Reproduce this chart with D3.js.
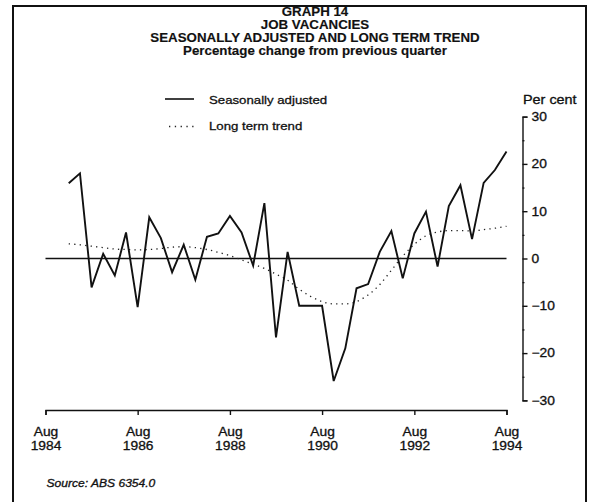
<!DOCTYPE html>
<html lang="en">
<head>
  <meta charset="utf-8">
  <title>Job vacancies</title>
  <script src="https://d3js.org/d3.v7.min.js"></script>
  <style>
    body { margin: 0; background: #fff; }
    svg text { font-family: "Liberation Sans", Arial, Helvetica, sans-serif; fill: #111; stroke: #111; stroke-width: 0.3px; }
  </style>
</head>
<body>
<div id="chart"></div>
<script>
"use strict";
// quarters, Feb 1985 .. Aug 1994
var quarters = ["1985-02","1985-05","1985-08","1985-11","1986-02","1986-05","1986-08","1986-11",
  "1987-02","1987-05","1987-08","1987-11","1988-02","1988-05","1988-08","1988-11",
  "1989-02","1989-05","1989-08","1989-11","1990-02","1990-05","1990-08","1990-11",
  "1991-02","1991-05","1991-08","1991-11","1992-02","1992-05","1992-08","1992-11",
  "1993-02","1993-05","1993-08","1993-11","1994-02","1994-05","1994-08"];
var seasAdj = [15.9, 18.0, -6.1, 1.0, -3.6, 5.5, -10.3, 8.7, 4.3, -2.9, 2.9, -4.5, 4.6, 5.3,
  9.0, 5.5, -1.5, 11.7, -16.7, 1.4, -10.0, -10.0, -10.0, -25.9, -19.0, -6.3, -5.4, 1.4, 5.8,
  -4.2, 5.3, 9.9, -1.7, 11.1, 15.5, 4.1, 16.0, 18.7, 22.6];
var trend = [3.1, 2.9, 2.6, 2.3, 2.0, 1.9, 1.8, 1.9, 2.1, 2.4, 2.5, 2.3, 1.9, 1.3, 0.6, -0.3,
  -1.2, -2.1, -3.3, -4.6, -6.5, -8.0, -9.1, -9.6, -9.6, -9.1, -7.7, -5.5, -2.5, 0.5, 3.0, 4.8,
  5.6, 5.9, 5.9, 5.8, 6.1, 6.4, 6.8];
var xTicks = ["1984-08","1986-08","1988-08","1990-08","1992-08","1994-08"];
var yTicks = [-30, -20, -10, 0, 10, 20, 30];
var yMinor = [-25, -15, -5, 5, 15, 25];
var titles = ["GRAPH 14", "JOB VACANCIES", "SEASONALLY ADJUSTED AND LONG TERM TREND",
  "Percentage change from previous quarter"];

var W = 594, H = 502;
var SX = 1.15; // the scan is stretched sideways
var parse = d3.timeParse("%Y-%m");

var svg = d3.select("#chart").append("svg")
  .attr("width", W).attr("height", H);

// frame
svg.append("path")
  .attr("d", "M13,510V6H586V510")
  .attr("fill", "none").attr("stroke", "#111").attr("stroke-width", 2);

function label(x, y, str, size, anchor, sx, extra) {
  var t = svg.append("text")
    .attr("transform", "translate(" + x + "," + y + ") scale(" + sx + ",1)")
    .attr("font-size", size)
    .attr("text-anchor", anchor)
    .text(str);
  if (extra) extra(t);
  return t;
}

titles.forEach(function(s, i) {
  label(315, 16 + i * 13, s, 12, "middle", 1.11, function(t) {
    t.attr("font-weight", "bold").style("stroke-width", "0.15px");
  });
});

var x = d3.scaleTime()
  .domain([parse(xTicks[0]), parse(xTicks[xTicks.length - 1])])
  .range([45.5, 506.5]);
var y = d3.scaleLinear().domain([-30, 30]).range([400.4, 116.6]);

var dados = quarters.map(function(q, i) {
  return { date: parse(q), sa: seasAdj[i], tr: trend[i] };
});

// zero line
svg.append("line")
  .attr("x1", x.range()[0]).attr("x2", x.range()[1])
  .attr("y1", y(0)).attr("y2", y(0))
  .attr("stroke", "#111").attr("stroke-width", 1.3);

// trend
svg.append("path")
  .datum(dados)
  .attr("fill", "none").attr("stroke", "#222").attr("stroke-width", 1.3)
  .attr("stroke-dasharray", "1.3 4.2")
  .attr("d", d3.line().x(d => x(d.date)).y(d => y(d.tr)).curve(d3.curveMonotoneX));

// seasonally adjusted
svg.append("path")
  .datum(dados)
  .attr("fill", "none").attr("stroke", "#111").attr("stroke-width", 1.9)
  .attr("d", d3.line().x(d => x(d.date)).y(d => y(d.sa)));

// x axis
var gx = svg.append("g")
  .attr("transform", "translate(0,410)")
  .call(d3.axisBottom(x).tickValues(xTicks.map(parse)).tickSize(5).tickSizeOuter(5).tickFormat(""));
gx.selectAll("path, line").attr("stroke", "#111").attr("stroke-width", 1.4);
gx.selectAll(".tick text").remove();
gx.selectAll(".tick").append("text")
  .attr("transform", "scale(" + SX + ",1)")
  .attr("font-size", 12).attr("text-anchor", "middle").attr("fill", "#111")
  .each(function(d) {
    var t = d3.select(this);
    t.append("tspan").attr("x", 0).attr("y", 26).text(d3.timeFormat("%b")(d));
    t.append("tspan").attr("x", 0).attr("y", 40).text(d3.timeFormat("%Y")(d));
  });

// y axis
var gy = svg.append("g")
  .attr("transform", "translate(522.5,0)")
  .call(d3.axisRight(y).tickValues(yTicks).tickSize(5).tickSizeOuter(5).tickPadding(4));
gy.selectAll("path, line").attr("stroke", "#111").attr("stroke-width", 1.4);
gy.selectAll(".tick text")
  .attr("font-size", 12).attr("font-family", null).attr("fill", "#111")
  .attr("x", 9 / SX)
  .attr("transform", "scale(" + SX + ",1)");
gy.append("g")
  .call(d3.axisRight(y).tickValues(yMinor).tickSize(2).tickFormat(""))
  .call(g => g.select(".domain").remove())
  .selectAll("line").attr("stroke", "#111").attr("stroke-width", 1.2);

label(523, 104, "Per cent", 12, "start", 1.2);

// legend
svg.append("line").attr("x1", 165).attr("x2", 194).attr("y1", 99).attr("y2", 99)
  .attr("stroke", "#111").attr("stroke-width", 1.6);
label(209, 104, "Seasonally adjusted", 11.5, "start", SX);
svg.append("line").attr("x1", 169).attr("x2", 194).attr("y1", 126.5).attr("y2", 126.5)
  .attr("stroke", "#222").attr("stroke-width", 1.3).attr("stroke-dasharray", "1.3 4.5");
label(209, 130, "Long term trend", 11.5, "start", SX);

label(46.5, 487, "Source: ABS 6354.0", 10.5, "start", SX, function(t) { t.attr("font-style", "italic"); });
</script>
</body>
</html>
